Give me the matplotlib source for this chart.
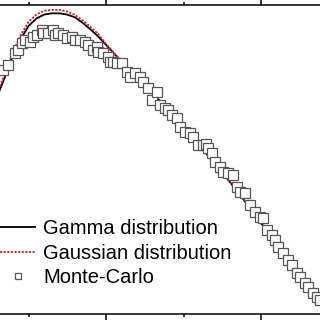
import matplotlib
matplotlib.use("Agg")
from matplotlib import pyplot as plt
from matplotlib.ticker import MultipleLocator

plt.rcParams['font.family'] = ['Liberation Sans', 'DejaVu Sans']

# curve values
x_fit = [0.6, 0.7, 0.8, 0.9, 1.0, 1.1, 1.2, 1.3, 1.4, 1.5, 1.6, 1.7, 1.8, 1.9, 2.0,
         2.2, 2.4, 2.6, 2.8, 3.0, 3.2, 3.4, 3.6, 3.8, 4.0, 4.2, 4.4, 4.6, 4.8]
gamma = [0.706, 0.770, 0.838, 0.890, 0.932, 0.956, 0.969, 0.973, 0.973, 0.969, 0.960,
         0.942, 0.921, 0.898, 0.871, 0.817, 0.764, 0.714, 0.663, 0.608, 0.547, 0.487,
         0.427, 0.362, 0.294, 0.230, 0.159, 0.091, 0.023]
gauss = [0.712, 0.783, 0.848, 0.903, 0.945, 0.969, 0.981, 0.984, 0.984, 0.979, 0.968,
         0.950, 0.929, 0.906, 0.874, 0.817, 0.764, 0.714, 0.663, 0.608, 0.547, 0.487,
         0.427, 0.362, 0.294, 0.230, 0.159, 0.091, 0.023]

# Monte-Carlo points
x_mc = [0.671, 0.735, 0.826, 0.865, 0.916, 0.955, 1.019, 1.058, 1.110, 1.174, 1.187,
        1.252, 1.316, 1.342, 1.381, 1.445, 1.497, 1.561, 1.600, 1.665, 1.729, 1.768,
        1.832, 1.884, 1.897, 1.961, 2.026, 2.052, 2.090, 2.142, 2.206, 2.271, 2.310,
        2.374, 2.439, 2.477, 2.542, 2.594, 2.658, 2.697, 2.761, 2.800, 2.852, 2.916,
        2.955, 3.019, 3.084, 3.123, 3.187, 3.252, 3.290, 3.316, 3.368, 3.406, 3.471,
        3.510, 3.574, 3.639, 3.690, 3.729, 3.794, 3.858, 3.923, 3.987, 4.026, 4.077,
        4.142, 4.181, 4.219, 4.284, 4.348, 4.400, 4.465, 4.503, 4.568, 4.606, 4.671,
        4.723, 4.761]
y_mc = [0.790, 0.806, 0.845, 0.854, 0.877, 0.887, 0.880, 0.896, 0.903, 0.919, 0.909,
        0.909, 0.919, 0.903, 0.909, 0.903, 0.893, 0.896, 0.887, 0.887, 0.880, 0.871,
        0.854, 0.864, 0.848, 0.845, 0.832, 0.816, 0.816, 0.812, 0.812, 0.783, 0.767,
        0.780, 0.767, 0.751, 0.731, 0.693, 0.718, 0.676, 0.667, 0.660, 0.644, 0.634,
        0.605, 0.589, 0.586, 0.573, 0.547, 0.547, 0.550, 0.537, 0.521, 0.492, 0.476,
        0.460, 0.456, 0.450, 0.411, 0.395, 0.392, 0.353, 0.330, 0.314, 0.311, 0.272,
        0.256, 0.239, 0.217, 0.197, 0.175, 0.159, 0.133, 0.120, 0.100, 0.087, 0.068,
        0.055, 0.045]

fig = plt.figure(figsize=(3.2, 3.2), dpi=100)
ax = fig.add_axes([0, 6 / 320, 1, 309 / 320])

ax.plot(x_fit, gamma, color='black', lw=1.3, label='Gamma distribution', zorder=2)
ax.plot(x_fit, gauss, color='#d62020', lw=1.3, ls=(0, (1.2, 0.8)),
        label='Gaussian distribution', zorder=3)
ax.plot(x_mc, y_mc, ls='none', marker='s', ms=7, mfc='white', mec='#555555',
        mew=0.9, label='Monte-Carlo', zorder=4)

ax.set_xlim(0.632, 4.761)
ax.set_ylim(0, 1)

for s in ['left', 'right']:
    ax.spines[s].set_visible(False)
for s in ['top', 'bottom']:
    ax.spines[s].set_linewidth(1.1)

ax.xaxis.set_major_locator(MultipleLocator(2))
ax.xaxis.set_minor_locator(MultipleLocator(1))
ax.tick_params(which='both', direction='out', top=True, bottom=True,
               left=False, right=False, labelbottom=False, labelleft=False, width=1.1)
ax.tick_params(which='major', length=4.5)
ax.tick_params(which='minor', length=2.5)

leg = ax.legend(loc='upper left', bbox_to_anchor=(0.0, 1 - 219 / 320),
                bbox_transform=fig.transFigure, frameon=False, fontsize=14.5,
                borderpad=0, borderaxespad=0, handlelength=1.75, handletextpad=0.4,
                labelspacing=0.28, markerscale=0.6)

fig.savefig('out.png', dpi=100)
